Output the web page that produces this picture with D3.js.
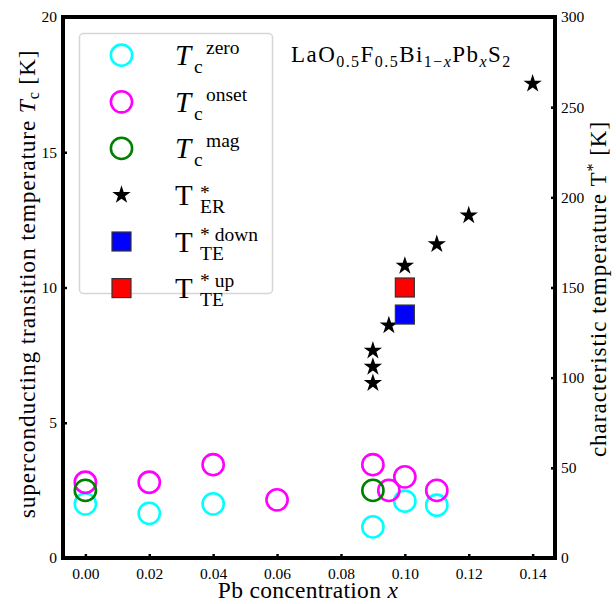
<!DOCTYPE html>
<html>
<head>
<meta charset="utf-8">
<script src="https://cdn.jsdelivr.net/npm/d3@7"></script>
<style>
  body { margin: 0; background: #fff; }
  svg text { font-family: "Liberation Serif", "DejaVu Serif", serif; fill: #000; }
</style>
</head>
<body>
<svg id="chart" width="616" height="604"></svg>
<script>
// ---- data ----
var xZero  = [0.00, 0.02, 0.04, 0.09, 0.10, 0.11];
var tcZero = [2.0, 1.65, 2.0, 1.15, 2.1, 1.95];

var xOnset  = [0.00, 0.02, 0.04, 0.06, 0.09, 0.095, 0.10, 0.11];
var tcOnset = [2.8, 2.8, 3.45, 2.15, 3.45, 2.5, 3.0, 2.5];

var xMag  = [0.00, 0.09];
var tcMag = [2.5, 2.5];

var xER = [0.09, 0.09, 0.09, 0.095, 0.10, 0.11, 0.12, 0.14];
var tER = [97, 106, 115, 129, 162, 174, 190, 263];

var xTEdown = [0.10];
var tTEdown = [135];
var xTEup = [0.10];
var tTEup = [150];

var xTicks = [0, 0.02, 0.04, 0.06, 0.08, 0.10, 0.12, 0.14];
var yLeftTicks = [0, 5, 10, 15, 20];
var yRightTicks = [0, 50, 100, 150, 200, 250, 300];

// ---- layout ----
var pl = 63, pr = 555, pt = 17, pb = 558;

var svg = d3.select("#chart");

var x = d3.scaleLinear().domain([-0.007, 0.147]).range([pl, pr]);
var yL = d3.scaleLinear().domain([0, 20]).range([pb, pt]);
var yR = d3.scaleLinear().domain([0, 300]).range([pb, pt]);

function zip(a, b) { return a.map(function(v, i){ return [v, b[i]]; }); }

// axes (ticks inward)
var gx = svg.append("g").attr("transform", "translate(0," + pb + ")")
  .call(d3.axisBottom(x).tickValues(xTicks).tickFormat(d3.format(".2f")).tickSize(-4).tickPadding(10));
var gyl = svg.append("g").attr("transform", "translate(" + pl + ",0)")
  .call(d3.axisLeft(yL).tickValues(yLeftTicks).tickFormat(d3.format("d")).tickSize(-4).tickPadding(6));
var gyr = svg.append("g").attr("transform", "translate(" + pr + ",0)")
  .call(d3.axisRight(yR).tickValues(yRightTicks).tickFormat(d3.format("d")).tickSize(-4).tickPadding(6));

[gx, gyl, gyr].forEach(function(g){
  g.select(".domain").remove();
  g.selectAll(".tick line").attr("stroke", "#000").attr("stroke-width", 2.5);
  g.selectAll(".tick text").style("font-size", "15.5px").style("font-family", "Liberation Serif");
});

// frame
svg.append("rect")
  .attr("x", pl).attr("y", pt)
  .attr("width", pr - pl).attr("height", pb - pt)
  .attr("fill", "none").attr("stroke", "#000").attr("stroke-width", 4);

// ---- marks ----
function rings(data, color) {
  svg.append("g").selectAll("circle").data(data).enter().append("circle")
    .attr("cx", function(d){ return x(d[0]); })
    .attr("cy", function(d){ return yL(d[1]); })
    .attr("r", 10.6)
    .attr("fill", "none").attr("stroke", color).attr("stroke-width", 2.6);
}
rings(zip(xZero, tcZero), "#00ffff");
rings(zip(xOnset, tcOnset), "#ff00ff");
rings(zip(xMag, tcMag), "#008000");

var star = d3.symbol().type(d3.symbolStar).size(105);
svg.append("g").selectAll("path").data(zip(xER, tER)).enter().append("path")
  .attr("d", star)
  .attr("transform", function(d){ return "translate(" + x(d[0]) + "," + yR(d[1]) + ")"; })
  .attr("fill", "#000");

function squares(data, color) {
  svg.append("g").selectAll("rect").data(data).enter().append("rect")
    .attr("x", function(d){ return x(d[0]) - 9.5; })
    .attr("y", function(d){ return yR(d[1]) - 9.5; })
    .attr("width", 19).attr("height", 19)
    .attr("fill", color).attr("stroke", "#333").attr("stroke-width", 1.2);
}
squares(zip(xTEdown, tTEdown), "#0000ff");
squares(zip(xTEup, tTEup), "#ff0000");

// ---- axis labels ----
var lab = svg.append("text")
  .attr("transform", "translate(35,284) rotate(-90)")
  .attr("text-anchor", "middle").style("font-size", "23.5px").style("letter-spacing", "0.8px");
lab.append("tspan").text("superconducting transition temperature ");
lab.append("tspan").style("font-style", "italic").text("T");
lab.append("tspan").attr("dy", 4).style("font-size", "16px").text("c");
lab.append("tspan").attr("dy", -4).text(" [K]");

var labR = svg.append("text")
  .attr("transform", "translate(606,289) rotate(-90)")
  .attr("text-anchor", "middle").style("font-size", "23px").style("letter-spacing", "1px");
labR.append("tspan").text("characteristic temperature T");
labR.append("tspan").attr("dy", -8).style("font-size", "16px").text("*");
labR.append("tspan").attr("dy", 8).text(" [K]");

var labX = svg.append("text")
  .attr("x", 308).attr("y", 598)
  .attr("text-anchor", "middle").style("font-size", "23.5px").style("letter-spacing", "0.3px");
labX.append("tspan").text("Pb concentration ");
labX.append("tspan").style("font-style", "italic").text("x");

// ---- title formula ----
var title = svg.append("text").attr("x", 291).attr("y", 62)
  .style("font-size", "23px").style("letter-spacing", "1.45px");
var parts = [
  ["LaO", 0], ["0.5", 1], ["F", 0], ["0.5", 1], ["Bi", 0], ["1\u2212", 1], ["x", 2],
  ["Pb", 0], ["x", 1, true], ["S", 0], ["2", 1]
];
var level = 0;
parts.forEach(function(p){
  var t = title.append("tspan").text(p[0]);
  var sub = p[1] > 0;
  var dy = (sub ? 1 : 0) - (level ? 1 : 0);
  if (dy) t.attr("dy", dy * 5);
  if (sub) t.style("font-size", "16px");
  if (p[1] === 2 || p[2]) t.style("font-style", "italic");
  level = sub ? 1 : 0;
});

// ---- legend ----
var leg = svg.append("g");
leg.append("rect")
  .attr("x", 79.5).attr("y", 33.5).attr("width", 193).attr("height", 260)
  .attr("rx", 4).attr("fill", "#fff").attr("fill-opacity", 0.8)
  .attr("stroke", "#d6d6d6").attr("stroke-width", 1.5);

var rowY = [55.7, 102.3, 148.9, 195.5, 242, 288.6].map(function(v){ return v - 0.5; });
var mx = 121.5;
var legendRows = [
  { kind: "ring", color: "#00ffff", italic: true, sub: "c", sup: "zero" },
  { kind: "ring", color: "#ff00ff", italic: true, sub: "c", sup: "onset" },
  { kind: "ring", color: "#008000", italic: true, sub: "c", sup: "mag" },
  { kind: "star", italic: false, sub: "ER", sup: "*" },
  { kind: "sq", color: "#0000ff", italic: false, sub: "TE", sup: "* down" },
  { kind: "sq", color: "#ff0000", italic: false, sub: "TE", sup: "* up" }
];
legendRows.forEach(function(r, i){
  var cy = rowY[i];
  if (r.kind === "ring") {
    leg.append("circle").attr("cx", mx).attr("cy", cy).attr("r", 10.6)
      .attr("fill", "none").attr("stroke", r.color).attr("stroke-width", 2.6);
  } else if (r.kind === "star") {
    leg.append("path").attr("d", star).attr("transform", "translate(" + mx + "," + cy + ")");
  } else {
    leg.append("rect").attr("x", mx - 9.5).attr("y", cy - 9.5).attr("width", 19).attr("height", 19)
      .attr("fill", r.color).attr("stroke", "#333").attr("stroke-width", 1.2);
  }
  leg.append("text").attr("x", 175).attr("y", cy + 10)
    .style("font-size", "29px").style("font-style", r.italic ? "italic" : "normal").text("T");
  leg.append("text").attr("x", r.italic ? 194 : 200).attr("y", cy + 18)
    .style("font-size", "19.5px").text(r.sub);
  leg.append("text").attr("x", r.italic ? 206 : 200).attr("y", r.sup === "*" ? cy + 4 : cy - 1)
    .style("font-size", "19.5px").text(r.sup);
});
</script>
</body>
</html>
